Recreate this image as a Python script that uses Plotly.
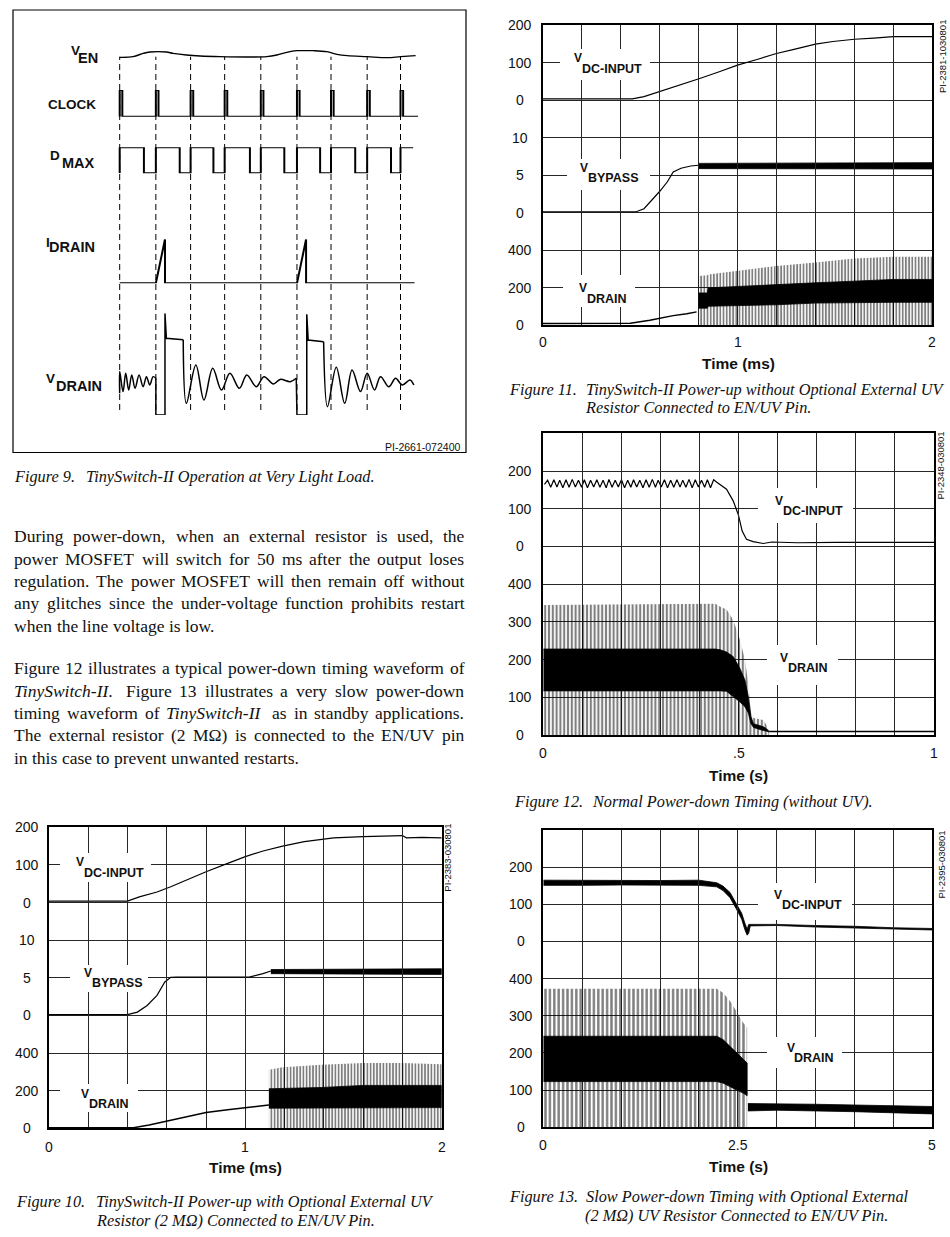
import re
import plotly.graph_objects as go

# =====================================================================
# DATA
# =====================================================================
# ---- Figure 9: timing diagram, time in clock cycles, levels normalised 0..1
clk9_starts = [0, 1.03, 2.02, 2.99, 4.02, 5.05, 6.02, 7.05, 8.0]
clk9_width = 0.075
clk9_end = 8.5
dmax9_falls = [0.69, 1.71, 2.67, 3.71, 4.69, 5.71, 6.71, 7.73]
dmax9_end = 8.36
ven9_t = [0, .38, .67, .86, 1.33, 1.52, 1.9, 2.29, 2.86, 3.62, 4.19, 4.48, 4.76, 5.05,
          5.52, 5.9, 6.19, 6.48, 7.05, 7.62, 8.0, 8.43]
ven9_v = [.267, .333, .667, .8, .8, .667, .5, .4, .333, .3, .333, .5, .767, .933,
          .933, .833, .567, .433, .333, .233, .333, .433]
id9_t = [0, 1.03, 1.29, 1.29, 5.05, 5.31, 5.31, 8.4]
id9_v = [0, 0, 1, 0, 0, 1, 0, 0]
vd9_ring1_t = [0, 0, 0.095, 0.171, 0.257, 0.343, 0.438, 0.552, 0.667, 0.762, 0.857, 0.952, 1.03]
vd9_ring1_v = [.213, .427, .230, .410, .246, .394, .262, .394, .278, .377, .295, .377, .361]
vd9_edge1_t = [1.03, 1.03, 1.29, 1.29, 1.33, 1.81]
vd9_edge1_v = [.361, 0, 0, 1.0, .754, .74]
vd9_ring2_t = [1.81, 1.90, 2.17, 2.40, 2.65, 2.90, 3.14, 3.41, 3.62, 3.89, 4.11, 4.38, 4.57, 4.86, 5.03]
vd9_ring2_v = [.74, .115, .492, .147, .459, .246, .410, .262, .394, .278, .377, .305, .35, .328, .361]
vd9_edge2_t = [5.03, 5.05, 5.33, 5.33, 5.37, 5.81]
vd9_edge2_v = [.361, 0, 0, .99, .737, .72]
vd9_ring3_t = [5.81, 5.92, 6.17, 6.41, 6.62, 6.86, 7.05, 7.26, 7.43, 7.67, 7.86, 8.05, 8.27, 8.38]
vd9_ring3_v = [.72, .082, .469, .115, .443, .230, .41, .246, .377, .278, .361, .295, .344, .295]

# ---- Figure 10 (time ms)
f10_vdc_t = [0, 0.40, 0.46, 0.55, 0.62, 0.70, 0.80, 0.91, 1.00, 1.09, 1.19, 1.30, 1.39, 1.45, 1.60, 1.75, 1.80, 1.82, 1.90, 2.00]
f10_vdc_v = [4, 4, 15, 28, 42, 60, 82, 104, 122, 137, 150, 162, 169, 172, 175, 177, 178, 172, 173, 172]
f10_vbp_t = [0, 0.40, 0.45, 0.50, 0.55, 0.59, 0.62, 0.65, 0.80, 1.02, 1.09, 1.13]
f10_vbp_v = [0.1, 0.1, 0.44, 1.33, 2.67, 4.44, 5.07, 5.1, 5.1, 5.1, 5.56, 5.9]
f10_vbp_noise_t = [1.13, 1.40, 1.70, 2.00]
f10_vbp_noise_lo = [5.55, 5.5, 5.5, 5.45]
f10_vbp_noise_hi = [6.1, 6.15, 6.15, 6.2]
f10_vd_t = [0, 0.43, 0.51, 0.60, 0.70, 0.80, 0.91, 1.01, 1.12]
f10_vd_v = [3, 3, 18, 39, 62, 84, 98, 110, 124]
f10_sw_t = [1.12, 1.19, 1.39, 1.60, 1.80, 2.00]
f10_sw_peak = [311, 324, 338, 347, 347, 340]
f10_sw_hi = [210, 212, 217, 228, 228, 228]
f10_sw_lo = [107, 108, 110, 110, 110, 110]

# ---- Figure 11 (time ms)
f11_vdc_t = [0, 0.46, 0.52, 0.60, 0.71, 0.81, 0.91, 1.00, 1.10, 1.20, 1.29, 1.40, 1.49, 1.60, 1.70, 1.80, 2.00]
f11_vdc_v = [3, 3, 9, 22, 40, 58, 76, 93, 108, 124, 135, 149, 156, 162, 165, 169, 169]
f11_vbp_t = [0, 0.48, 0.52, 0.56, 0.60, 0.64, 0.67, 0.71, 0.76, 0.80]
f11_vbp_v = [0.1, 0.1, 0.5, 1.6, 2.8, 4.1, 5.4, 5.9, 6.2, 6.3]
f11_vbp_noise_t = [0.80, 1.40, 2.00]
f11_vbp_noise_lo = [5.85, 5.8, 5.8]
f11_vbp_noise_hi = [6.55, 6.65, 6.65]
f11_vd_t = [0, 0.45, 0.55, 0.62, 0.67, 0.74, 0.79]
f11_vd_v = [8, 10, 25, 40, 50, 60, 70]
f11_sw_t = [0.80, 0.845, 0.85, 0.98, 1.20, 1.40, 1.60, 1.80, 2.00]
f11_sw_peak = [261, 265, 270, 288, 315, 333, 355, 364, 364]
f11_sw_hi = [171, 171, 198, 205, 216, 225, 234, 243, 243]
f11_sw_lo = [90, 90, 100, 105, 108, 117, 121, 121, 121]

# ---- Figure 12 (time s)
f12_vdc_t = [0.003, 0.011, 0.019, 0.027, 0.035, 0.042, 0.050, 0.058, 0.066, 0.074,
             0.082, 0.090, 0.098, 0.105, 0.113, 0.121, 0.129, 0.137, 0.145, 0.153,
             0.161, 0.168, 0.176, 0.184, 0.192, 0.200, 0.208, 0.216, 0.224, 0.231,
             0.239, 0.247, 0.255, 0.263, 0.271, 0.279, 0.287, 0.294, 0.302, 0.310,
             0.318, 0.326, 0.334, 0.342, 0.350, 0.357, 0.365, 0.373, 0.381, 0.389,
             0.397, 0.405, 0.413, 0.420, 0.428, 0.436, 0.445,
             0.452, 0.469, 0.486, 0.499, 0.509, 0.520, 0.537, 0.563, 0.585, 0.65, 0.75, 0.85, 1.0]
f12_vdc_v = [165, 176, 157, 177, 158, 176, 156, 177, 157, 178,
             158, 176, 157, 177, 156, 176, 158, 177, 157, 176,
             156, 178, 157, 176, 158, 177, 156, 176, 157, 177,
             158, 176, 156, 177, 157, 178, 157, 176, 158, 177,
             156, 176, 157, 177, 158, 176, 157, 178, 156, 177,
             158, 176, 157, 177, 156, 177, 170,
             165, 152, 121, 85, 41, 19, 13, 8, 12, 10, 11, 11, 11]
f12_sw_t = [0, 0.44, 0.453, 0.469, 0.486, 0.503, 0.516, 0.525, 0.531, 0.538, 0.563, 0.572, 0.578]
f12_sw_peak = [345, 348, 340, 333, 306, 253, 200, 133, 62, 45, 40, 25, 9]
f12_sw_hi = [228, 228, 226, 220, 208, 177, 146, 100, 50, 30, 22, 16, 9]
f12_sw_lo = [117, 117, 117, 116, 102, 88, 75, 58, 31, 20, 12, 10, 8]
f12_vd_tail_t = [0.578, 0.7, 0.8, 0.9, 1.0]
f12_vd_tail_v = [9, 9, 9, 9, 9]

# ---- Figure 13 (time s)
f13_vdc_t = [0, 0.5, 1.0, 1.5, 2.0, 2.23, 2.31, 2.40, 2.48, 2.55, 2.59, 2.62, 2.64, 2.66, 3.0, 3.49, 4.0, 4.5, 5.0]
f13_vdc_lo = [151, 151, 152, 152, 151, 147, 137, 118, 88, 60, 32, 17, 22, 42, 43, 39, 37, 33, 31]
f13_vdc_hi = [165, 164, 165, 164, 165, 158, 149, 132, 102, 76, 50, 33, 46, 46, 46, 43, 41, 37, 35]
f13_sw_t = [0, 2.23, 2.31, 2.40, 2.48, 2.57, 2.62]
f13_sw_peak = [373, 373, 362, 340, 313, 281, 268]
f13_sw_hi = [245, 245, 236, 218, 200, 182, 173]
f13_sw_lo = [123, 123, 119, 110, 101, 92, 85]
f13_tail_t = [2.63, 3.0, 3.5, 4.0, 4.5, 5.0]
f13_tail_lo = [44, 46, 44, 42, 40, 36]
f13_tail_hi = [64, 64, 62, 60, 58, 56]

# ---- tick labels
f10_ticks_vdc = [0, 100, 200]
f10_ticks_vbp = [0, 5, 10]
f10_ticks_vd = [0, 200, 400]
f11_ticks_vdc = [0, 100, 200]
f11_ticks_vbp = [0, 5, 10]
f11_ticks_vd = [0, 200, 400]
f12_ticks_vdc = [0, 100, 200]
f12_ticks_vd = [0, 100, 200, 300, 400]
f13_ticks_vdc = [0, 100, 200]
f13_ticks_vd = [0, 100, 200, 300, 400]
f10_xticks = [0, 1, 2]
f10_xtick_text = ["0", "1", "2"]
f11_xticks = [0, 1, 2]
f11_xtick_text = ["0", "1", "2"]
f12_xticks = [0, 0.5, 1]
f12_xtick_text = ["0", ".5", "1"]
f13_xticks = [0, 2.5, 5]
f13_xtick_text = ["0", "2.5", "5"]

# ---- texts
body_p1 = ["During power-down, when an external resistor is used, the",
           "power MOSFET will switch for 50 ms after the output loses",
           "regulation.  The power MOSFET will then remain off without",
           "any glitches since the under-voltage function prohibits restart",
           "when the line voltage is low."]
body_p2 = ["Figure 12 illustrates a typical power-down timing waveform of",
           "<i>TinySwitch-II</i>.  Figure 13 illustrates a very slow power-down",
           "timing waveform of <i>TinySwitch-II</i> as in standby applications.",
           "The external resistor (2 M\u03a9) is connected to the EN/UV pin",
           "in this case to prevent unwanted restarts."]

# =====================================================================
# LAYOUT HELPERS
# =====================================================================
W, H = 950, 1237
def X(p): return p / W
def Y(p): return 1 - p / H
def DX(a, b): return [a / W, b / W]
def DY(top, bot): return [1 - bot / H, 1 - top / H]

SANS = "Liberation Sans, Arial, sans-serif"
SERIF = "Liberation Serif, Times New Roman, serif"
INK = "#111111"

HIDDEN = dict(showgrid=False, showticklabels=False, showline=False, ticks="", zeroline=False,
              fixedrange=True)

fig = go.Figure()
layout = {}
annotations = []
shapes = []

def ann(text, x, y, size, family=SANS, xanchor="left", yanchor="middle", weight="normal",
        style="normal", xref="paper", yref="paper", angle=0, color=INK):
    annotations.append(dict(text=text, x=x, y=y, xref=xref, yref=yref, showarrow=False,
                            xanchor=xanchor, yanchor=yanchor, textangle=angle,
                            font=dict(size=size, family=family, weight=weight, style=style, color=color),
                            borderpad=0))

def line(x, y, xa, ya, w=1.2, shape="linear"):
    fig.add_trace(go.Scatter(x=x, y=y, xaxis=xa, yaxis=ya, mode="lines",
                             line=dict(color="black", width=w, shape=shape),
                             hoverinfo="skip", showlegend=False))

def hatch(x, top, xa, ya, size, solidity=0.55):
    fig.add_trace(go.Scatter(x=x, y=top, xaxis=xa, yaxis=ya, mode="lines", fill="tozeroy",
                             line=dict(width=0, color="rgba(0,0,0,0)"), fillcolor="rgba(0,0,0,0)",
                             fillpattern=dict(shape="|", size=size, solidity=solidity,
                                              fgcolor="black", bgcolor="rgba(0,0,0,0)"),
                             hoverinfo="skip", showlegend=False))

def band(x, lo, hi, xa, ya):
    xs = list(x) + list(x)[::-1]
    ys = list(hi) + list(lo)[::-1]
    fig.add_trace(go.Scatter(x=xs, y=ys, xaxis=xa, yaxis=ya, mode="lines", fill="toself",
                             fillcolor="black", line=dict(width=0.8, color="black"),
                             hoverinfo="skip", showlegend=False))

def empty(xa, ya):
    fig.add_trace(go.Scatter(x=[], y=[], xaxis=xa, yaxis=ya, mode="lines",
                             hoverinfo="skip", showlegend=False))

# =====================================================================
# FIGURE 9 : timing diagram
# =====================================================================
c0_px, cyc_px = 119.7, 35.1       # pixel of cycle 0, pixels per cycle
layout["xaxis"] = dict(domain=DX(13, 466), range=[(13 - c0_px) / cyc_px, (466 - c0_px) / cyc_px],
                       anchor="y", **HIDDEN)
rows9 = {"yaxis": (50, 60), "yaxis2": (90, 116.7), "yaxis3": (147.3, 173.3),
         "yaxis4": (239.3, 283.3), "yaxis5": (313.3, 415)}
for k, (t, b) in rows9.items():
    layout[k] = dict(domain=DY(t, b), range=[0, 1], anchor="x", **HIDDEN)

shapes.append(dict(type="rect", xref="paper", yref="paper", x0=X(13), x1=X(466), y0=Y(452.5), y1=Y(10),
                   line=dict(color="black", width=1.2), layer="below"))
for c in clk9_starts:
    shapes.append(dict(type="line", xref="x", yref="paper", x0=c, x1=c, y0=Y(410), y1=Y(56.7),
                       line=dict(color="black", width=1, dash="6px,4px"), layer="below"))

line(ven9_t, ven9_v, "x", "y", w=1.4, shape="spline")
cx, cy = [], []
for s in clk9_starts:
    cx += [s, s, s + clk9_width, s + clk9_width]
    cy += [0, 1, 1, 0]
cx.append(clk9_end); cy.append(0)
line(cx, cy, "x", "y2", w=2)
dx_, dy_ = [], []
for i, s in enumerate(clk9_starts):
    dx_ += [s, s]
    dy_ += [0, 1]
    if i < len(dmax9_falls):
        dx_ += [dmax9_falls[i], dmax9_falls[i]]
        dy_ += [1, 0]
dx_.append(dmax9_end); dy_.append(1)
line(dx_, dy_, "x", "y3", w=2)
line(id9_t, id9_v, "x", "y4", w=2)
line(vd9_ring1_t, vd9_ring1_v, "x", "y5", w=1.5, shape="spline")
line(vd9_edge1_t, vd9_edge1_v, "x", "y5", w=1.5)
line(vd9_ring2_t, vd9_ring2_v, "x", "y5", w=1.5, shape="spline")
line(vd9_edge2_t, vd9_edge2_v, "x", "y5", w=1.5)
line(vd9_ring3_t, vd9_ring3_v, "x", "y5", w=1.5, shape="spline")

def lab9(main, sub, xm, ym, xs, ys):
    ann(main, X(xm), Y(ym), 13.5, weight="bold")
    if sub:
        ann(sub, X(xs), Y(ys), 14.5, weight="bold")
lab9("V", "EN", 69.7, 50, 77.3, 58.3)
lab9("CLOCK", None, 47.3, 104.7, 0, 0)
lab9("D", "MAX", 49, 156, 61.3, 163.3)
lab9("I", "DRAIN", 44.7, 242.8, 48, 247)
lab9("V", "DRAIN", 44.7, 378.5, 54.7, 386)
ann("PI-2661-072400", X(461), Y(447), 10.5, xanchor="right")

# =====================================================================
# SCOPE FIGURES
# =====================================================================
GRID = dict(showgrid=True, gridcolor="#262626", gridwidth=1, showticklabels=False, ticks="",
            showline=True, mirror=True, linecolor="black", linewidth=2, zeroline=False,
            fixedrange=True, tickmode="linear", tick0=0)

def scope(xn, yn, xdom, ydom, trange, signals):
    layout[f"xaxis{xn}"] = dict(domain=DX(*xdom), range=[0, trange], anchor=f"y{yn}", dtick=trange / 10, **GRID)
    layout[f"yaxis{yn}"] = dict(domain=DY(*ydom), range=[0, 8], anchor=f"x{xn}", dtick=1, **GRID)
    empty(f"x{xn}", f"y{yn}")
    for k, rng in signals:
        layout[f"yaxis{k}"] = dict(domain=DY(*ydom), anchor=f"x{xn}", range=rng, **HIDDEN)

scope(2, 6, (49, 441.7), (827.3, 1128.3), 2, [(7, [-600, 200]), (8, [-15, 25]), (9, [0, 1600])])
scope(3, 10, (542.7, 932.3), (25, 325), 2, [(11, [-600, 200]), (12, [-15, 25]), (13, [0, 1600])])
scope(4, 14, (543.3, 934), (433.4, 735), 1, [(15, [-500, 300]), (16, [0, 800])])
scope(5, 17, (543.3, 932.3), (830, 1127.3), 5, [(18, [-500, 300]), (19, [0, 800])])

line(f10_vdc_t, f10_vdc_v, "x2", "y7")
line(f10_vbp_t, f10_vbp_v, "x2", "y8")
band(f10_vbp_noise_t, f10_vbp_noise_lo, f10_vbp_noise_hi, "x2", "y8")
line(f10_vd_t, f10_vd_v, "x2", "y9", w=1.5)
hatch(f10_sw_t, f10_sw_peak, "x2", "y9", 3.2)
band(f10_sw_t, f10_sw_lo, f10_sw_hi, "x2", "y9")

line(f11_vdc_t, f11_vdc_v, "x3", "y11")
line(f11_vbp_t, f11_vbp_v, "x3", "y12")
band(f11_vbp_noise_t, f11_vbp_noise_lo, f11_vbp_noise_hi, "x3", "y12")
line(f11_vd_t, f11_vd_v, "x3", "y13", w=1.5)
hatch(f11_sw_t, f11_sw_peak, "x3", "y13", 3.2)
band(f11_sw_t, f11_sw_lo, f11_sw_hi, "x3", "y13")

line(f12_vdc_t, f12_vdc_v, "x4", "y15")
hatch(f12_sw_t, f12_sw_peak, "x4", "y16", 3.8)
band(f12_sw_t, f12_sw_lo, f12_sw_hi, "x4", "y16")
line(f12_vd_tail_t, f12_vd_tail_v, "x4", "y16", w=1.5)

band(f13_vdc_t, f13_vdc_lo, f13_vdc_hi, "x5", "y18")
hatch(f13_sw_t, f13_sw_peak, "x5", "y19", 4.4)
band(f13_sw_t, f13_sw_lo, f13_sw_hi, "x5", "y19")
band(f13_tail_t, f13_tail_lo, f13_tail_hi, "x5", "y19")

def yticks(vals, yref, xc):
    for v in vals:
        ann(str(v), X(xc), v, 14, xanchor="center", yref=yref)
def xticks(vals, texts, xref, ypx):
    for v, t in zip(vals, texts):
        ann(t, v, Y(ypx), 14, xanchor="center", xref=xref)

yticks(f10_ticks_vdc, "y7", 26.5); yticks(f10_ticks_vbp, "y8", 26.5); yticks(f10_ticks_vd, "y9", 26.5)
yticks(f11_ticks_vdc, "y11", 520); yticks(f11_ticks_vbp, "y12", 520); yticks(f11_ticks_vd, "y13", 520)
yticks(f12_ticks_vdc, "y15", 520); yticks(f12_ticks_vd, "y16", 520)
yticks(f13_ticks_vdc, "y18", 521); yticks(f13_ticks_vd, "y19", 521)
xticks(f10_xticks, f10_xtick_text, "x2", 1146.7)
xticks(f11_xticks, f11_xtick_text, "x3", 341.7)
xticks(f12_xticks, f12_xtick_text, "x4", 752.7)
xticks(f13_xticks, f13_xtick_text, "x5", 1145)

ann("Time (ms)", X(245.7), Y(1167.7), 15.5, xanchor="center", weight="bold")
ann("Time (ms)", X(738), Y(363.3), 15.5, xanchor="center", weight="bold")
ann("Time (s)", X(738), Y(775.7), 15.5, xanchor="center", weight="bold")
ann("Time (s)", X(738.3), Y(1166.7), 15.5, xanchor="center", weight="bold")

ann("PI-2383-030801", X(446.7), Y(858), 9.5, xanchor="center", angle=-90)
ann("PI-2381-1030801", X(943), Y(57), 9.5, xanchor="center", angle=-90)
ann("PI-2348-030801", X(939.5), Y(466), 9.5, xanchor="center", angle=-90)
ann("PI-2395-030801", X(941), Y(864.5), 9.5, xanchor="center", angle=-90)

sig_labels = [
    ("DC-INPUT", (60, 151, 853, 882), (75, 862), (83, 873)),
    ("BYPASS", (70, 148, 965, 992), (83, 973), (91, 983)),
    ("DRAIN", (60, 138, 1084, 1112), (80, 1093.5), (88, 1104)),
    ("DC-INPUT", (560, 650, 49, 80), (572.7, 58.3), (580.7, 69.3)),
    ("BYPASS", (567, 650, 159, 190), (579.3, 168.3), (587.3, 178.3)),
    ("DRAIN", (563, 635, 275, 307), (578.3, 288.3), (586, 299)),
    ("DC-INPUT", (758, 853, 488, 523), (774, 500.8), (781.7, 510.5)),
    ("DRAIN", (767, 838, 645, 685), (779.3, 657.5), (786.7, 667.5)),
    ("DC-INPUT", (758, 852, 883, 920), (773.3, 894.7), (781, 905)),
    ("DRAIN", (767, 842, 1037, 1068), (786, 1048), (793.3, 1058.3)),
]
for sub, (bx0, bx1, by0, by1), (vx, vy), (sx, sy) in sig_labels:
    shapes.append(dict(type="rect", xref="paper", yref="paper", x0=X(bx0), x1=X(bx1), y0=Y(by1), y1=Y(by0),
                       fillcolor="white", line=dict(width=0), layer="above"))
    ann("V", X(vx), Y(vy), 12, weight="bold")
    ann(sub, X(sx), Y(sy), 12.5, weight="bold")

# =====================================================================
# CAPTIONS
# =====================================================================
CAP = 16.3
def caption(num_text, rest, xl, xi, y):
    ann(num_text, X(xl), Y(y), CAP, family=SERIF, style="italic")
    ann(rest, X(xi), Y(y), CAP, family=SERIF, style="italic")

caption("Figure 9.", "TinySwitch-II Operation at Very Light Load.", 13.3, 85, 476.7)
caption("Figure 10.", "TinySwitch-II Power-up with Optional External UV", 15, 95, 1201.7)
ann("Resistor (2 M\u03a9) Connected to EN/UV Pin.", X(95), Y(1220.7), CAP, family=SERIF, style="italic")
caption("Figure 11.", "TinySwitch-II Power-up without Optional External UV", 508, 585, 390)
ann("Resistor Connected to EN/UV Pin.", X(584), Y(407.5), CAP, family=SERIF, style="italic")
caption("Figure 12.", "Normal Power-down Timing (without UV).", 513.3, 590.7, 801.7)
caption("Figure 13.", "Slow Power-down Timing with Optional External", 508, 585, 1196.7)
ann("(2 M\u03a9) UV Resistor Connected to EN/UV Pin.", X(584), Y(1215.7), CAP, family=SERIF, style="italic")

# =====================================================================
# BODY TEXT (justified word by word using Times metrics)
# =====================================================================
TW = {' ': 250, '!': 333, '"': 408, '#': 500, '$': 500, '%': 833, '&': 778, "'": 333, '(': 333, ')': 333,
      '*': 500, '+': 564, ',': 250, '-': 333, '.': 250, '/': 278, ':': 278, ';': 278, '?': 444,
      'A': 722, 'B': 667, 'C': 667, 'D': 722, 'E': 611, 'F': 556, 'G': 722, 'H': 722, 'I': 333, 'J': 389,
      'K': 722, 'L': 611, 'M': 889, 'N': 722, 'O': 722, 'P': 556, 'Q': 722, 'R': 667, 'S': 556, 'T': 611,
      'U': 722, 'V': 722, 'W': 944, 'X': 722, 'Y': 722, 'Z': 611,
      'a': 444, 'b': 500, 'c': 444, 'd': 500, 'e': 444, 'f': 333, 'g': 500, 'h': 500, 'i': 278, 'j': 278,
      'k': 500, 'l': 278, 'm': 778, 'n': 500, 'o': 500, 'p': 500, 'q': 500, 'r': 333, 's': 389, 't': 278,
      'u': 500, 'v': 500, 'w': 722, 'x': 500, 'y': 500, 'z': 444, '\u03a9': 768}
for d in "0123456789":
    TW[d] = 500

BODY = 17.5
def wwidth(s, size):
    plain = re.sub(r"<[^>]+>", "", s)
    return sum(TW.get(ch, 500) for ch in plain) / 1000 * size

def body_line(text, y, left=13.3, right=463.3, justify=True):
    words = text.split()
    widths = [wwidth(w, BODY) for w in words]
    if justify and len(words) > 1:
        gap = (right - left - sum(widths)) / (len(words) - 1)
    else:
        gap = TW[' '] / 1000 * BODY
    x = left
    for w, wd in zip(words, widths):
        ann(w, X(x), Y(y), BODY, family=SERIF)
        x += wd + gap

p1_y0, p2_y0, lead = 536.5, 668.3, 22.3
for i, t in enumerate(body_p1):
    body_line(t, p1_y0 + i * lead, justify=(i < len(body_p1) - 1))
for i, t in enumerate(body_p2):
    body_line(t, p2_y0 + i * lead, justify=(i < len(body_p2) - 1))

# =====================================================================
layout.update(dict(width=W, height=H, margin=dict(l=0, r=0, t=0, b=0), paper_bgcolor="white",
                   plot_bgcolor="rgba(0,0,0,0)", showlegend=False, annotations=annotations,
                   shapes=shapes, hovermode=False))
fig.update_layout(**layout)
fig.write_html("out.html", config={"displayModeBar": False, "staticPlot": True},
               post_script="document.body.style.margin='0';document.body.style.padding='0';"
                           "document.body.style.overflow='hidden';")
